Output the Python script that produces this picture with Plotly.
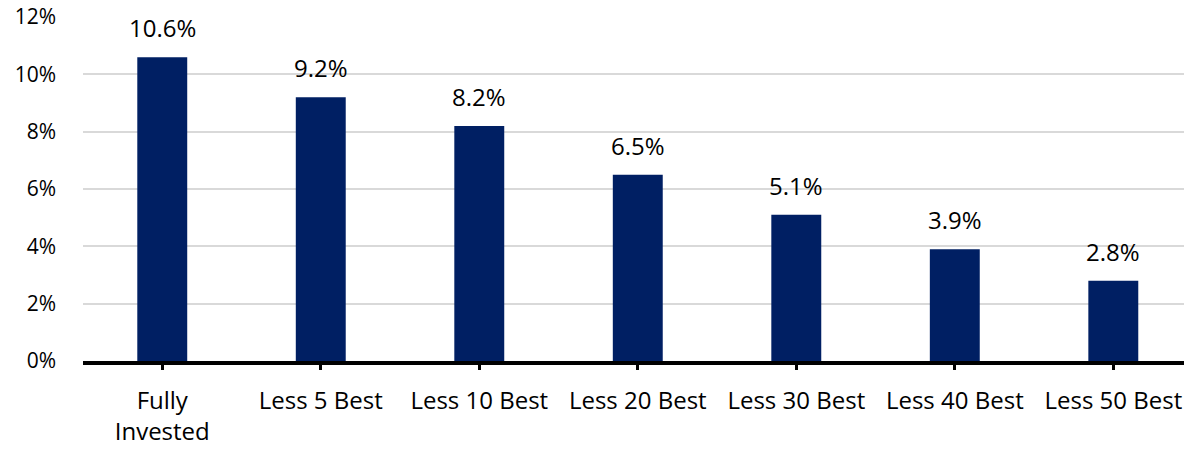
import plotly.graph_objects as go

categories = ["Fully<br>Invested", "Less 5 Best", "Less 10 Best", "Less 20 Best",
              "Less 30 Best", "Less 40 Best", "Less 50 Best"]
values = [10.6, 9.2, 8.2, 6.5, 5.1, 3.9, 2.8]
value_labels = [f"{v:.1f}%" for v in values]
y_ticks = [0, 2, 4, 6, 8, 10, 12]
y_tick_labels = [f"{t}%" for t in y_ticks]

FONT = "'Open Sans', sans-serif"
x_idx = list(range(len(categories)))

fig = go.Figure()
fig.add_trace(go.Bar(
    x=x_idx, y=values, width=0.315,
    marker=dict(color="#001f63", line=dict(width=0)),
    hoverinfo="skip",
))

for xi, v, lab in zip(x_idx, values, value_labels):
    fig.add_annotation(
        x=xi, y=v, text=lab, showarrow=False,
        xanchor="center", yanchor="bottom", yshift=11,
        font=dict(family=FONT, size=24, color="#000000"),
    )

fig.update_layout(
    width=1184, height=450,
    margin=dict(l=83, r=0, t=17, b=89),
    paper_bgcolor="white", plot_bgcolor="white",
    showlegend=False,
    font=dict(family=FONT, size=21, color="#000000"),
)
fig.update_xaxes(
    tickmode="array", tickvals=x_idx, ticktext=categories,
    range=[-0.5, 6.446],
    showgrid=False, zeroline=False,
    showline=True, linecolor="#000000", linewidth=3.5,
    ticks="outside", ticklen=5, tickwidth=3, tickcolor="#000000",
    ticklabelstandoff=10,
    tickfont=dict(family=FONT, size=24, color="#000000"),
)
fig.update_yaxes(
    tickmode="array", tickvals=y_ticks, ticktext=y_tick_labels,
    range=[0, 12],
    showgrid=True, gridcolor="#d9d9d9", gridwidth=1.5,
    zeroline=False, showline=False, ticks="",
    ticklabelstandoff=26,
    tickfont=dict(family=FONT, size=21, color="#000000"),
)

fig.write_html("out.html", config={"displayModeBar": False},
               post_script="document.body.style.margin='0';")
